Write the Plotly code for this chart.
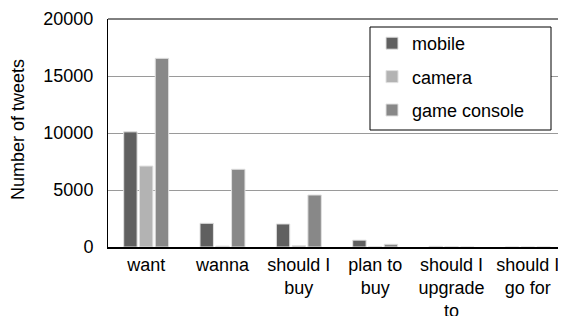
import plotly.graph_objects as go

categories = ["want", "wanna", "should I<br>buy", "plan to<br>buy", "should I<br>upgrade<br>to", "should I<br>go for"]
mobile = [10100, 2080, 2020, 600, 60, 0]
camera = [7100, 80, 120, 20, 30, 0]
game_console = [16550, 6820, 4560, 240, 0, 0]
y_ticks = [0, 5000, 10000, 15000, 20000]
y_tick_labels = ["0", "5000", "10000", "15000", "20000"]
y_title = "Number of tweets"

series = [
    ("mobile", mobile, "#606060"),
    ("camera", camera, "#b3b3b3"),
    ("game console", game_console, "#888888"),
]

fig = go.Figure()
for name, vals, color in series:
    fig.add_trace(go.Bar(
        x=categories, y=vals, name=name, legendgroup=name,
        marker=dict(color=color, line=dict(color="#e0e0e0", width=1)),
    ))

font = dict(family="Liberation Sans, Arial, sans-serif", size=18, color="#000000")

PW = 458  # plot width in px
PH = 228  # plot height in px

fig.update_layout(
    width=566, height=316,
    margin=dict(l=100, r=8, t=11, b=77),
    paper_bgcolor="white", plot_bgcolor="white",
    font=font,
    barmode="group", bargap=0.38, bargroupgap=0.15,
    showlegend=True,
    legend=dict(
        x=(372 - 108) / PW, y=(PH - 6) / PH, xanchor="left", yanchor="top",
        bgcolor="rgba(0,0,0,0)", borderwidth=0,
        tracegroupgap=7, font=font,
    ),
    xaxis=dict(
        showline=True, linecolor="#000000", linewidth=2, mirror=False,
        ticks="", showgrid=False, tickfont=font, automargin=False,
    ),
    yaxis=dict(
        range=[0, 20000], tickvals=y_ticks, ticktext=y_tick_labels,
        showgrid=True, gridcolor="#9a9a9a", automargin=False,
        gridwidth=1, zeroline=False, showline=True, linecolor="#000000", linewidth=1,
        ticks="", tickfont=font, ticklabelstandoff=10,
    ),
    annotations=[
        dict(text=y_title, xref="paper", yref="paper", x=(18 - 108) / PW, y=(247 - 130) / PH,
             xanchor="center", yanchor="middle", textangle=-90, showarrow=False, font=font),
    ],
    shapes=[
        dict(type="line", xref="paper", yref="paper", x0=0, x1=1, y0=1, y1=1,
             line=dict(color="#000000", width=1)),
        dict(type="rect", xref="paper", yref="paper", x0=(370 - 108) / PW, x1=(551 - 108) / PW,
             y0=(247 - 130) / PH, y1=(247 - 27) / PH, layer="above",
             fillcolor="white", line=dict(color="#000000", width=1)),
    ],
)

fig.write_html("out.html")
